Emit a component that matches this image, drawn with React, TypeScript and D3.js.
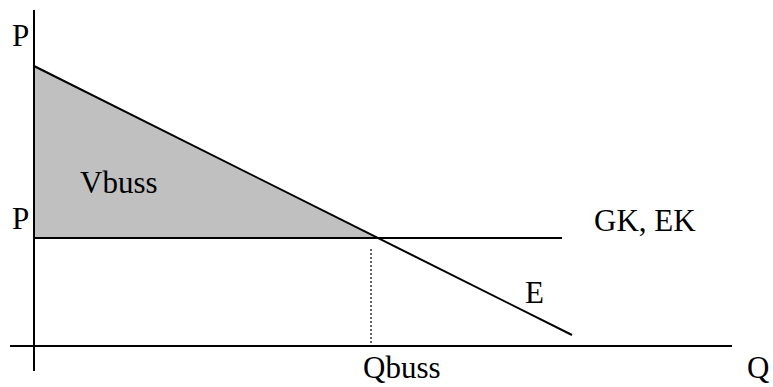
import React from "react";
import * as d3 from "d3";

// Economic quantities (arbitrary units)
const axisQ = [-2.4, 69.8];      // extent of the Q axis
const axisP = [-2.5, 33.6];      // extent of the P axis
const demandQ = [0, 53.8];        // demand curve E: quantities
const demandP = [28, 1.1];        // demand curve E: prices
const priceLevel = 10.8;          // price P (GK, EK)
const priceLineQ = [0, 52.8];     // extent of the price line
const qBuss = 33.7;               // Qbuss
const qBussDotTop = 9.7;          // top of dotted guide
const labelTexts = ["P", "P", "Vbuss", "GK, EK", "E", "Qbuss", "Q"];
const labelQ = [-2.2, -2.2, 4.6, 56.0, 49.1, 32.9, 71.3];
const labelP = [30, 11.7, 15.3, 11.5, 4.3, -3.2, -3.2];

export default function App() {
  const W = 773, H = 387;
  const x = d3.scaleLinear().domain([0, 70]).range([34, 734]);
  const y = d3.scaleLinear().domain([0, 28]).range([346, 66]);

  const slope = (demandP[1] - demandP[0]) / (demandQ[1] - demandQ[0]);
  const qStar = demandQ[0] + (priceLevel - demandP[0]) / slope;

  const line = d3.line<[number, number]>().x(d => x(d[0])).y(d => y(d[1]));
  const tri: [number, number][] = [[0, demandP[0]], [0, priceLevel], [qStar, priceLevel]];

  const font = "Liberation Serif, Times New Roman, Times, DejaVu Serif, serif";
  return (
    <svg width={W} height={H} style={{ position: "absolute", left: 0, top: 0, background: "#fff" }}>
      <path d={line(tri)! + "Z"} fill="#c0c0c0" stroke="none" />
      <path d={line([[axisQ[0], 0], [axisQ[1], 0]])!} stroke="#000" strokeWidth={2} fill="none" />
      <path d={line([[0, axisP[0]], [0, axisP[1]]])!} stroke="#000" strokeWidth={2} fill="none" />
      <path d={line([[priceLineQ[0], priceLevel], [priceLineQ[1], priceLevel]])!} stroke="#000" strokeWidth={2} fill="none" />
      <path d={line([[demandQ[0], demandP[0]], [demandQ[1], demandP[1]]])!} stroke="#000" strokeWidth={2} fill="none" />
      <path d={line([[qBuss, qBussDotTop], [qBuss, 0]])!} stroke="#000" strokeWidth={1.2} strokeDasharray="2,2" fill="none" />
      {labelTexts.map((t, i) => (
        <text key={i} x={x(labelQ[i])} y={y(labelP[i])} style={{ fontFamily: font, fontSize: "31px" }} fill="#000" textAnchor="start">
          {t}
        </text>
      ))}
    </svg>
  );
}
